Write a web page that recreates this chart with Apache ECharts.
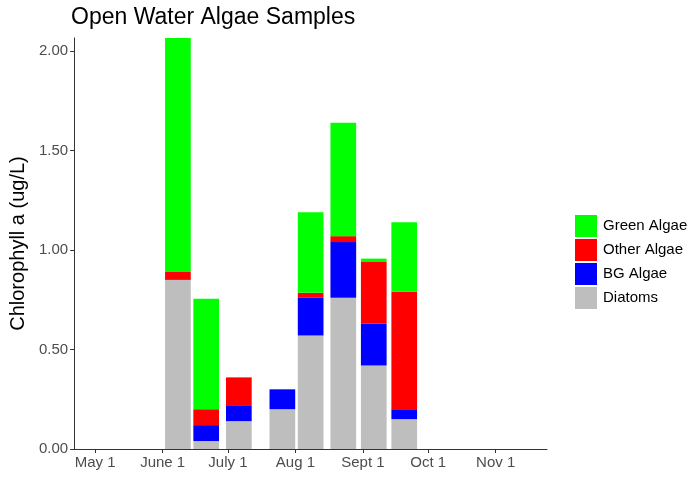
<!DOCTYPE html>
<html>
<head>
<meta charset="utf-8">
<script src="https://cdn.jsdelivr.net/npm/echarts@6/dist/echarts.min.js"></script>
<style>
  html, body { margin: 0; padding: 0; background: #fff; }
  #chart { width: 692px; height: 478px; }
</style>
</head>
<body>
<div id="chart"></div>
<script>
// sample dates as day of year (2019)
var sampleDays = [159, 172, 187, 207, 220, 235, 249, 263];
var diatoms    = [0.85, 0.04, 0.14, 0.20, 0.57, 0.76, 0.42, 0.15];
var bgAlgae    = [0,    0.08, 0.08, 0.10, 0.19, 0.28, 0.21, 0.05];
var otherAlgae = [0.04, 0.08, 0.14, 0,    0.025, 0.03, 0.31, 0.59];
var greenAlgae = [1.18, 0.555, 0,   0,    0.405, 0.57, 0.017, 0.35];

var tickDays   = [121, 152, 182, 213, 244, 274, 305];
var tickLabels = ['May 1', 'June 1', 'July 1', 'Aug 1', 'Sept 1', 'Oct 1', 'Nov 1'];
var yTicks     = [0, 0.5, 1, 1.5, 2];

var font = 'Liberation Sans, Arial, sans-serif';

// value first so the stack sums the y value, not the day
function pairs(vals) {
    return sampleDays.map(function (d, i) { return [vals[i], d]; });
}

var chart = echarts.init(document.getElementById('chart'));

function barSeries(name, vals, color) {
    return {
        name: name,
        type: 'bar',
        stack: 'algae',
        barWidth: 25.7,
        encode: { x: 1, y: 0 },
        itemStyle: { color: color },
        data: pairs(vals)
    };
}

var option = {
    animation: false,
    title: {
        text: 'Open Water Algae Samples',
        left: 71,
        top: 6,
        padding: 0,
        textStyle: { fontFamily: font, fontSize: 23, fontWeight: 'normal', color: '#000' }
    },
    legend: {
        orient: 'vertical',
        left: 570,
        top: 210,
        itemWidth: 22,
        itemHeight: 22,
        itemGap: 2,
        icon: 'rect',
        data: ['Green Algae', 'Other Algae', 'BG Algae', 'Diatoms'],
        textStyle: { fontFamily: font, fontSize: 15, color: '#000', padding: [0, 0, 0, 1] }
    },
    grid: { left: 71, right: 145, top: 38, bottom: 29 },
    xAxis: {
        type: 'value',
        min: 111.3,
        max: 328.6,
        splitLine: { show: false },
        axisLine: { lineStyle: { color: '#333', width: 1 } },
        axisTick: { show: true, length: 4, customValues: tickDays, lineStyle: { color: '#333' } },
        axisLabel: {
            customValues: tickDays,
            margin: 6,
            fontFamily: font,
            fontSize: 15,
            color: '#4d4d4d',
            formatter: function (v) {
                var i = tickDays.indexOf(v);
                return i >= 0 ? tickLabels[i] : '';
            }
        }
    },
    yAxis: {
        type: 'value',
        min: 0,
        max: 2.066,
        name: 'Chlorophyll a (ug/L)',
        nameLocation: 'middle',
        nameGap: 34,
        nameTextStyle: { fontFamily: font, fontSize: 20, color: '#000' },
        splitLine: { show: false },
        axisLine: { show: true, lineStyle: { color: '#333', width: 1 } },
        axisTick: { show: true, length: 4, customValues: yTicks, lineStyle: { color: '#333' } },
        axisLabel: {
            customValues: yTicks,
            margin: 6,
            fontFamily: font,
            fontSize: 15,
            color: '#4d4d4d',
            formatter: function (v) { return v.toFixed(2); }
        }
    },
    series: [
        barSeries('Diatoms', diatoms, '#bebebe'),
        barSeries('BG Algae', bgAlgae, '#0000ff'),
        barSeries('Other Algae', otherAlgae, '#ff0000'),
        barSeries('Green Algae', greenAlgae, '#00ff00')
    ]
};

chart.setOption(option);
</script>
</body>
</html>
